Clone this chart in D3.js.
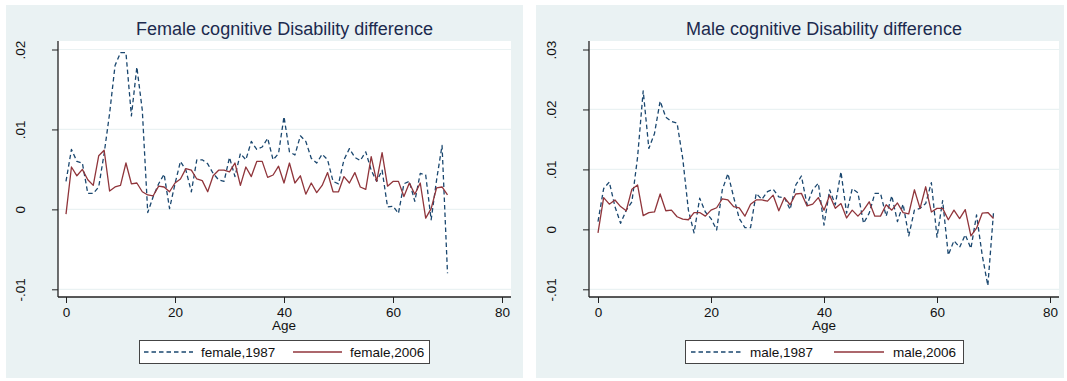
<!DOCTYPE html>
<html>
<head>
<meta charset="utf-8">
<script src="https://cdn.jsdelivr.net/npm/d3@7"></script>
<style>
  body { margin: 0; background: #fff; }
  text { font-family: "Liberation Sans", Arial, sans-serif; }
</style>
</head>
<body>
<svg id="chart" width="1067" height="381"></svg>
<script>
// ages 0..70
const ages = d3.range(0, 71)

const female1987 = [0.0035, 0.0075, 0.006, 0.0058, 0.002, 0.002, 0.0028, 0.007, 0.012, 0.018,
  0.0196, 0.0196, 0.0117, 0.0178, 0.0124, -0.0004, 0.0016, 0.0032, 0.0044, 0.0001,
  0.0032, 0.006, 0.0049, 0.0022, 0.0062, 0.0062, 0.0057, 0.0045, 0.0037, 0.0035,
  0.0065, 0.0041, 0.007, 0.0062, 0.0085, 0.0075, 0.0078, 0.0089, 0.0062, 0.007,
  0.0116, 0.0072, 0.0068, 0.0092, 0.0085, 0.0064, 0.0058, 0.0069, 0.0062, 0.0035,
  0.0032, 0.0062, 0.0076, 0.0065, 0.0061, 0.0072, 0.0049, 0.0035, 0.0049, 0.0003,
  0.0004, -0.0005, 0.0032, 0.0035, 0.001, 0.0045, 0.0043, -0.0013, 0.0037, 0.008, -0.008]

const female2006 = [-0.0006, 0.0053, 0.0042, 0.005, 0.0037, 0.003, 0.0067, 0.0074, 0.0023, 0.0028,
  0.003, 0.0058, 0.0032, 0.0033, 0.0022, 0.0018, 0.0017, 0.0029, 0.0028, 0.0022,
  0.0033, 0.0038, 0.0051, 0.0049, 0.0038, 0.0036, 0.0022, 0.0042, 0.0049, 0.0049,
  0.0047, 0.0058, 0.003, 0.0053, 0.0041, 0.006, 0.006, 0.004, 0.0043, 0.0054,
  0.0033, 0.0058, 0.0033, 0.0042, 0.0019, 0.0033, 0.0021, 0.003, 0.0046, 0.0022,
  0.0022, 0.0041, 0.0033, 0.0046, 0.0028, 0.0025, 0.0066, 0.0035, 0.0071, 0.0029,
  0.0035, 0.0035, 0.0016, 0.0033, 0.0019, 0.0033, -0.0011, 0.0001, 0.0027, 0.0028, 0.0018]

const male1987 = [0.0013, 0.0068, 0.0079, 0.0038, 0.001, 0.0032, 0.0046, 0.012, 0.0231, 0.0135,
  0.016, 0.0214, 0.0187, 0.018, 0.0177, 0.0118, 0.0032, -0.0006, 0.0052, 0.0029,
  0.0018, -0.0001, 0.0066, 0.0093, 0.0054, 0.0018, 0.0003, 0.0003, 0.006, 0.005,
  0.0063, 0.0067, 0.0054, 0.0053, 0.0033, 0.0074, 0.0089, 0.0041, 0.0066, 0.0077,
  0.0007, 0.0066, 0.0041, 0.0096, 0.0027, 0.0068, 0.0061, 0.001, 0.0027, 0.006,
  0.006, 0.0022, 0.0056, 0.0013, 0.0042, -0.0011, 0.0032, 0.0035, 0.0043, 0.0078,
  -0.0013, 0.0048, -0.0043, -0.0019, -0.003, -0.0009, -0.0032, 0.0024, -0.0043, -0.0094, 0.0028]

const male2006 = [-0.0006, 0.0053, 0.0042, 0.0049, 0.0038, 0.0031, 0.0067, 0.0074, 0.0023, 0.0028,
  0.0029, 0.0059, 0.0031, 0.0032, 0.0021, 0.0017, 0.0016, 0.0028, 0.0028, 0.0022,
  0.0032, 0.0036, 0.0051, 0.0049, 0.0038, 0.0036, 0.0022, 0.0042, 0.0049, 0.0049,
  0.0047, 0.0057, 0.0031, 0.0053, 0.0041, 0.0059, 0.006, 0.0039, 0.0042, 0.0053,
  0.0032, 0.0057, 0.0035, 0.0043, 0.0019, 0.0032, 0.0022, 0.0032, 0.0046, 0.0022,
  0.0022, 0.0041, 0.0032, 0.0044, 0.0028, 0.0026, 0.0066, 0.0035, 0.0071, 0.0029,
  0.0035, 0.0035, 0.0016, 0.0032, 0.0018, 0.0033, -0.0011, 0.0002, 0.0027, 0.0028, 0.0018]

const xTicks = [0, 20, 40, 60, 80]
const femaleYTicks = [-0.01, 0, 0.01, 0.02]
const maleYTicks = [-0.01, 0, 0.01, 0.02, 0.03]

const bg = '#eaf2f3'
const navy = '#1a476f'
const maroon = '#90353b'

const panels = [
  {
    title: 'Female cognitive Disability difference',
    outer: [6, 5, 523, 378],
    plot: [58, 41, 511, 297],
    xRange: [66, 502],
    yDomain: [-0.01, 0.02], yRange: [289.3, 49.5],
    yTicks: femaleYTicks,
    series: [
      { name: 'female,1987', values: female1987, color: navy, dash: '4.5,3' },
      { name: 'female,2006', values: female2006, color: maroon, dash: null }
    ],
    legend: [139, 340, 429, 363],
    legendItems: [[144, 193, 201], [293, 342, 350]],
    yLabelX: 20.5
  },
  {
    title: 'Male cognitive Disability difference',
    outer: [536, 5, 1064, 378],
    plot: [589, 41, 1059, 297],
    xRange: [598, 1050],
    yDomain: [-0.01, 0.03], yRange: [289.3, 49.5],
    yTicks: maleYTicks,
    series: [
      { name: 'male,1987', values: male1987, color: navy, dash: '4.5,3' },
      { name: 'male,2006', values: male2006, color: maroon, dash: null }
    ],
    legend: [685, 340, 963, 363],
    legendItems: [[691, 742, 750], [834, 884, 893]],
    yLabelX: 551
  }
]

const svg = d3.select('#chart')

// format like stata: .01, -.01, 0 (plain hyphen)
function fmt(v) {
  if (v === 0) return '0'
  return (v < 0 ? '-' : '') + d3.format('.2f')(Math.abs(v)).replace('0.', '.')
}

panels.forEach(p => {
  const g = svg.append('g')
  const [ox0, oy0, ox1, oy1] = p.outer
  const [px0, py0, px1, py1] = p.plot

  g.append('rect')
    .attr('x', ox0).attr('y', oy0)
    .attr('width', ox1 - ox0).attr('height', oy1 - oy0)
    .attr('fill', bg)

  g.append('rect')
    .attr('x', px0).attr('y', py0)
    .attr('width', px1 - px0).attr('height', py1 - py0)
    .attr('fill', '#fff')

  const x = d3.scaleLinear().domain([0, 80]).range(p.xRange)
  const y = d3.scaleLinear().domain(p.yDomain).range(p.yRange)

  // gridlines
  g.selectAll('.grid')
    .data(p.yTicks)
    .join('line')
    .attr('x1', px0).attr('x2', px1)
    .attr('y1', d => y(d)).attr('y2', d => y(d))
    .attr('stroke', bg)
    .attr('stroke-width', 1.2)

  // lines
  p.series.forEach(s => {
    g.append('path')
      .datum(ages.map((a, i) => [a, s.values[i]]))
      .attr('fill', 'none')
      .attr('stroke', s.color)
      .attr('stroke-width', 1.3)
      .attr('stroke-dasharray', s.dash)
      .attr('stroke-linejoin', 'round')
      .attr('d', d3.line().x(d => x(d[0])).y(d => y(d[1])))
  })

  // axes
  const xAxis = g.append('g')
    .attr('transform', `translate(0, ${py1})`)
    .call(d3.axisBottom(x).tickValues(xTicks).tickSize(6).tickSizeOuter(0).tickPadding(4))
  xAxis.select('.domain').attr('d', `M${px0},0H${px1}`).attr('stroke', '#222').attr('stroke-width', 1.3)
  xAxis.selectAll('.tick line').attr('stroke', '#222')
  xAxis.selectAll('.tick text')
    .attr('font-size', 13.5).attr('fill', '#111')

  const yAxis = g.append('g')
    .attr('transform', `translate(${px0}, 0)`)
    .call(d3.axisLeft(y).tickValues(p.yTicks).tickSize(6).tickSizeOuter(0).tickFormat(fmt))
  yAxis.select('.domain').attr('d', `M0,${py0}V${py1}`).attr('stroke', '#222').attr('stroke-width', 1.3)
  yAxis.selectAll('.tick line').attr('stroke', '#222')
  yAxis.selectAll('.tick text')
    .attr('x', null).attr('dy', null)
    .attr('transform', `translate(${p.yLabelX - px0}, 0) rotate(-90)`)
    .attr('text-anchor', 'middle')
    .attr('dominant-baseline', 'central')
    .attr('font-size', 13.5).attr('fill', '#111')

  // axis title
  g.append('text')
    .attr('x', x(40)).attr('y', 330)
    .attr('text-anchor', 'middle')
    .attr('font-size', 13.5).attr('fill', '#111')
    .text('Age')

  // title
  g.append('text')
    .attr('x', (px0 + px1) / 2).attr('y', 35)
    .attr('text-anchor', 'middle')
    .attr('font-size', 18).attr('fill', '#1c2a4e')
    .text(p.title)

  // legend
  const [lx0, ly0, lx1, ly1] = p.legend
  g.append('rect')
    .attr('x', lx0 + 0.5).attr('y', ly0 + 0.5)
    .attr('width', lx1 - lx0).attr('height', ly1 - ly0)
    .attr('fill', '#fff').attr('stroke', '#444').attr('stroke-width', 1)
  const ly = (ly0 + ly1) / 2 + 0.5
  p.series.forEach((s, i) => {
    const [a, b, t] = p.legendItems[i]
    g.append('line')
      .attr('x1', a).attr('x2', b).attr('y1', ly).attr('y2', ly)
      .attr('stroke', s.color).attr('stroke-width', 1.3)
      .attr('stroke-dasharray', s.dash)
    g.append('text')
      .attr('x', t).attr('y', ly)
      .attr('dominant-baseline', 'central')
      .attr('font-size', 13.5).attr('fill', '#111')
      .text(s.name)
  })
})
</script>
</body>
</html>
